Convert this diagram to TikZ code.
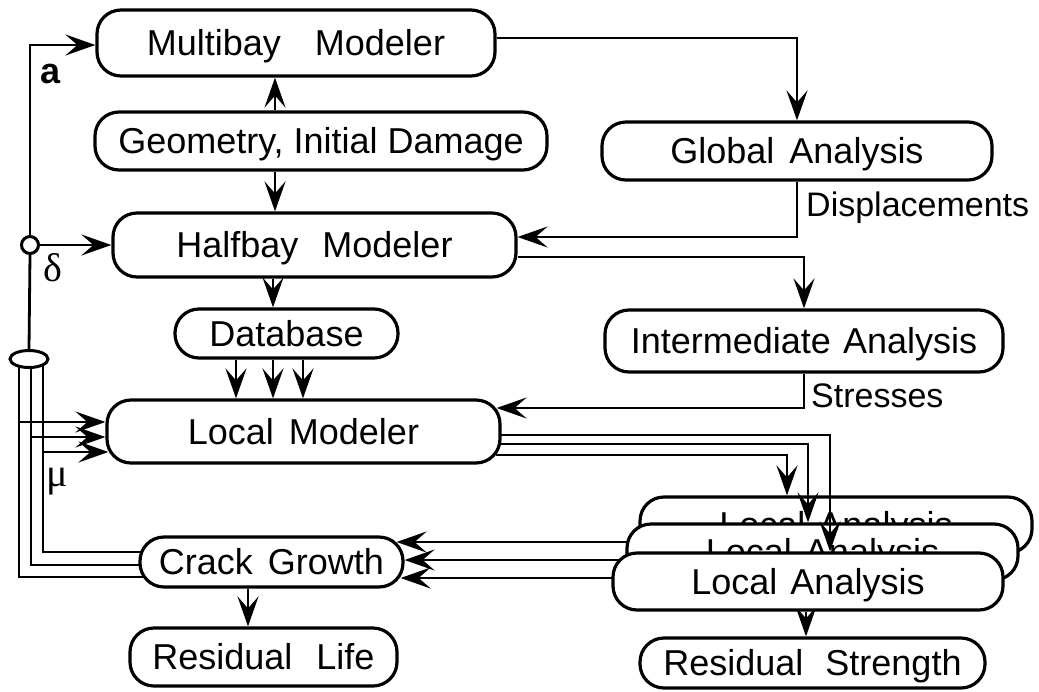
\documentclass[tikz,border=0pt]{standalone}
\usepackage{fontspec}
\setmainfont{Liberation Sans}
\newfontfamily\grk{Liberation Serif}
\usetikzlibrary{arrows.meta,calc,shapes.geometric,backgrounds}
\begin{document}
\begin{tikzpicture}[x=1pt,y=-1pt,
  box/.style={draw,line width=3.2pt,rounded corners=24pt,fill=white,inner sep=0pt,
    text height=25.8pt,text depth=0pt,font=\fontsize{36}{42}\selectfont},
  arr/.style={line width=2.8pt,-{Stealth[length=30pt,width=21pt,inset=12pt]}},
  ln/.style={line width=2.8pt},
  lbl/.style={font=\fontsize{34}{40}\selectfont,inner sep=0pt}]
\useasboundingbox (0,0) rectangle (1039,691);

% boxes
\node[box,minimum width=398pt,minimum height=66pt] (mb) at (296,43) {Multibay\hspace{34pt}Modeler};
\node[box,minimum width=452pt,minimum height=58pt] (geo) at (321,141) {Geometry, Initial Damage};
\node[box,minimum width=403pt,minimum height=64pt] (hb) at (314.5,245) {Halfbay\hspace{24pt}Modeler};
\node[box,minimum width=390pt,minimum height=58pt] (ga) at (797,151) {Global\hspace{15pt}Analysis};
\node[box,minimum width=398pt,minimum height=62pt] (ia) at (804,341) {Intermediate\hspace{12pt}Analysis};
\node[box,minimum width=223pt,minimum height=49pt] (db) at (286.5,333.5) {Database};
\node[box,minimum width=393pt,minimum height=63pt] (lm) at (303.5,431.5) {Local\hspace{15pt}Modeler};
\node[box,minimum width=263pt,minimum height=50pt] (cg) at (271.5,562) {Crack\hspace{15pt}Growth};
\node[box,minimum width=267pt,minimum height=58pt] (rl) at (263.5,657) {Residual\hspace{24pt}Life};
\node[box,minimum width=392pt,minimum height=56pt] (la1) at (836,525) {Local\hspace{13pt}Analysis};
\node[box,minimum width=391pt,minimum height=56pt] (la2) at (822.5,552) {Local\hspace{13pt}Analysis};
\node[box,minimum width=390pt,minimum height=57pt] (la3) at (808,581.5) {Local\hspace{13pt}Analysis};
\node[box,minimum width=345pt,minimum height=50pt] (rs) at (812.5,663) {Residual\hspace{22pt}Strength};

% junctions
\node[circle,draw,line width=3pt,fill=white,minimum size=17pt,inner sep=0pt] (cj) at (30,245) {};
\node[ellipse,draw,line width=3pt,fill=white,minimum width=38pt,minimum height=17pt,inner sep=0pt] (el) at (29,359) {};

% labels
\node[lbl,anchor=base west,font=\fontsize{36}{42}\selectfont] (lba) at (40,83) {\bfseries a};
\node[lbl,anchor=base west,font=\fontsize{40}{46}\selectfont] (lbd) at (43,281) {\grk δ};
\node[lbl,anchor=base west,font=\fontsize{40}{46}\selectfont] (lbm) at (46,486) {\grk μ};
\node[lbl,anchor=base west] (ldisp) at (806,216) {Displacements};
\node[lbl,anchor=base west] (lstr) at (811,407) {Stresses};

% connectors under the boxes
\begin{scope}[on background layer]
  \draw[arr] (cj.north) |- ($(mb.west)+(0,2)$);
  \draw[arr] (cj.east) -- (hb.west);
  \draw[ln] (cj.south) -- (el.north);
  \draw[ln] ($(el.center)+(-10,0)$) |- ($(cg.center)+(0,15)$);
  \draw[ln] ($(el.center)+(2,0)$) |- ($(cg.center)+(0,3)$);
  \draw[ln] ($(el.center)+(14,0)$) |- ($(cg.center)+(0,-10)$);
  \draw[arr] ($(el.center)+(-10,63)$) -- ($(lm.west)+(0,-9.5)$);
  \draw[arr] ($(el.center)+(2,78)$) -- ($(lm.west)+(0,5.5)$);
  \draw[arr] ($(el.center)+(14,93)$) -- ($(lm.west)+(3,20.5)$);

  \draw[arr] ($(mb.east)+(0,-5)$) -| (ga.north);
  \draw[arr] ($(geo.north)+(-46,0)$) -- ($(mb.south)+(-21,0)$);
  \draw[arr] ($(geo.south)+(-46,0)$) -- ($(hb.north)+(-39.5,0)$);
  \draw[arr] (ga.south) |- ($(hb.east)+(0,-8)$);
  \draw[arr] ($(hb.east)+(0,12)$) -| (ia.north);
  \draw[arr] ($(hb.south)+(-41.5,0)$) -- ($(db.north)+(-13.5,0)$);
  \draw[arr] ($(db.south)+(-50.5,0)$) -- ($(lm.north)+(-67.5,0)$);
  \draw[arr] ($(db.south)+(-13.5,0)$) -- ($(lm.north)+(-30.5,0)$);
  \draw[arr] ($(db.south)+(16.5,0)$) -- ($(lm.north)+(-0.5,0)$);
  \draw[arr] (ia.south) |- ($(lm.east)+(-5,-23.5)$);

  \draw[arr] ($(la1.west)+(20,17)$) -- ($(cg.east)+(-8,-20)$);
  \draw[arr] ($(la2.west)+(20,8)$) -- ($(cg.east)+(0,-2)$);
  \draw[arr] ($(la3.west)+(20,-3.5)$) -- ($(cg.east)+(-4,16)$);
  \draw[arr] ($(cg.south)+(-23.5,0)$) -- ($(rl.north)+(-15.5,0)$);
  \draw[arr] ($(la3.south)+(-2,0)$) -- ($(rs.north)+(-6.5,0)$);
\end{scope}

% connectors drawn over the stacked local analyses
\draw[arr] ($(lm.east)+(-1,3.5)$) -| ($(la3.north)+(22,0)$);
\draw[arr] ($(lm.east)+(-1,12.5)$) -| ($(la2.north)+(-14.5,0)$);
\draw[arr] ($(lm.east)+(-6,23.5)$) -| ($(la1.north)+(-49,0)$);
\end{tikzpicture}
\end{document}
